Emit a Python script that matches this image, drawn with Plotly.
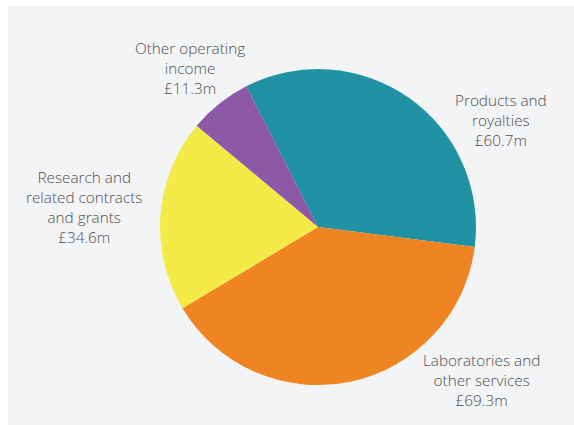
import plotly.graph_objects as go

# Income breakdown (£m)
categories = ["Products and royalties", "Laboratories and other services",
              "Research and related contracts and grants", "Other operating income"]
values = [60.7, 69.3, 34.6, 11.3]
label_lines = [
    ["Products and", "royalties"],
    ["Laboratories and", "other services"],
    ["Research and", "related contracts", "and grants"],
    ["Other operating", "income"],
]
colors = ["#2092a4", "#ef8423", "#f4eb48", "#8d59a6"]

W, H = 574, 425
cx, cy, r = 318, 227, 158

fig = go.Figure(go.Pie(
    labels=categories,
    values=values,
    sort=False,
    direction="clockwise",
    rotation=-27,
    marker=dict(colors=colors, line=dict(width=0)),
    textinfo="none",
    hoverinfo="label+value",
    showlegend=False,
    domain=dict(x=[(cx - r) / W, (cx + r) / W],
                y=[1 - (cy + r) / H, 1 - (cy - r) / H]),
))

# label anchor positions (pixel centre of the first line)
label_pos = [(501, 98), (481, 358), (84, 175), (190, 46)]
for lines, v, (lx, ly) in zip(label_lines, values, label_pos):
    text = "<br>".join(lines + [f"£{v:.1f}m"])
    fig.add_annotation(
        x=lx / W, y=1 - (ly - 10) / H, xref="paper", yref="paper",
        xanchor="center", yanchor="top", align="center",
        text=text, showarrow=False,
        font=dict(family="Open Sans", size=15.3, color="#4f4f4f", weight=300),
    )

fig.update_layout(
    width=W, height=H,
    margin=dict(l=0, r=0, t=0, b=0),
    paper_bgcolor="white",
    plot_bgcolor="white",
    shapes=[dict(type="rect", xref="paper", yref="paper",
                 x0=8 / W, x1=1, y0=0, y1=1 - 6 / H,
                 fillcolor="#f3f4f6", line=dict(width=0), layer="below")],
)

fig.write_html("out.html")
